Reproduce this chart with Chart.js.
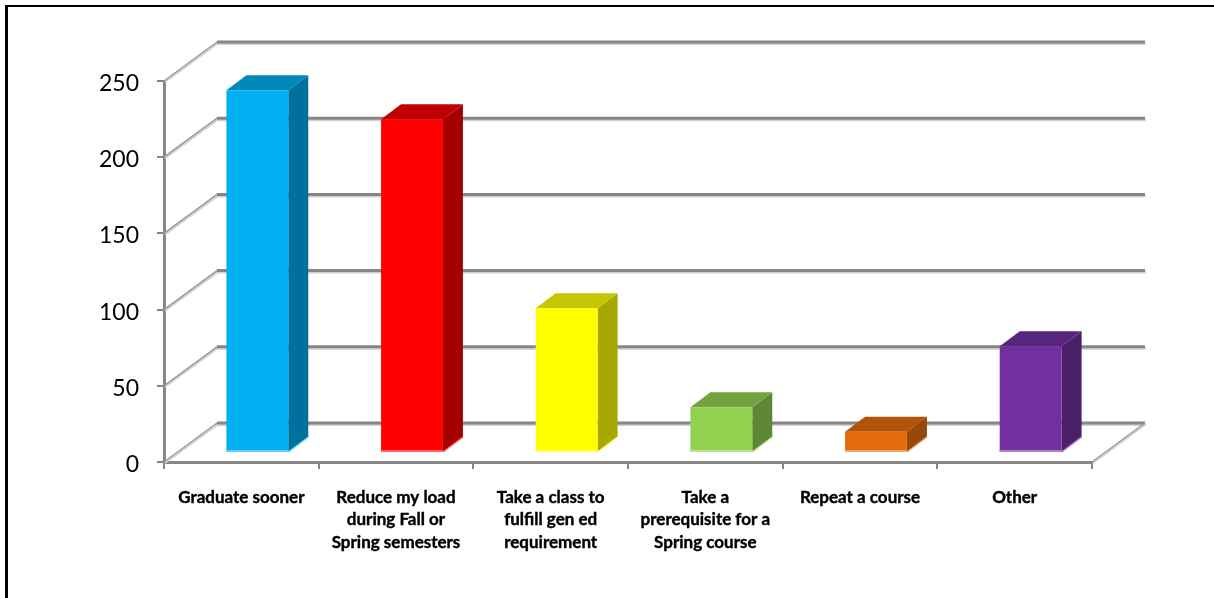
<!DOCTYPE html>
<html><head><meta charset="utf-8">
<style>html,body{margin:0;padding:0;background:#fff;overflow:hidden}
#f{position:absolute;left:5px;top:5px;width:1209px;height:593px;border-left:3px solid #000;border-top:2px solid #000;box-sizing:border-box}
canvas{position:absolute;left:0;top:0}</style>
<script src="https://cdn.jsdelivr.net/npm/chart.js@4"></script></head>
<body><div id="f"></div><canvas id="c" width="1214" height="598"></canvas>
<script>
const categories=[["Graduate sooner"],["Reduce my load","during Fall or","Spring semesters"],["Take a class to","fulfill gen ed","requirement"],["Take a","prerequisite for a","Spring course"],["Repeat a course"],["Other"]];
const values=[238,219,95,30,14,70];
const frontColors=["#00B0F0","#FF0000","#FFFF00","#92D050","#E46C0A","#7030A0"];
const topColors=["#0089B8","#C00000","#C6C600","#71A43E","#B15408","#57257C"];
const sideColors=["#00719C","#A50000","#A8A800","#5E8735","#964A08","#4A2069"];
const edgeColors=["#66D0F6","#FF6666","#FFFF66","#BEE396","#EFA66C","#A983C6"];
const yTicks=[0,50,100,150,200,250];
const WALL={dx:53,dy:-39}, BAR={dx:16,dy:-9}, DEPTH={dx:20,dy:-15};
const GRID="#868686";
function poly(ctx,p,c){ctx.fillStyle=c;ctx.beginPath();p.forEach((q,i)=>i?ctx.lineTo(q[0],q[1]):ctx.moveTo(q[0],q[1]));ctx.closePath();ctx.fill();}
const walls={id:'walls',beforeDraw(ch){
  ch.scales.y.getLabelItems().forEach(it=>{it.options.translation[1]+=2.5;});
},beforeDatasetsDraw(ch){
  const c=ch.ctx,y=ch.scales.y,x=ch.scales.x,a=ch.chartArea;c.save();
  yTicks.forEach(v=>{const py=y.getPixelForValue(v);
    c.lineCap='butt';
    c.strokeStyle='#d2d2d2';c.lineWidth=2;c.beginPath();c.moveTo(a.left+1,py+1);c.lineTo(a.left+WALL.dx,py+WALL.dy+2);c.lineTo(a.right+WALL.dx+1,py+WALL.dy+2);c.stroke();
    c.strokeStyle='#9a9a9a';c.lineWidth=1.5;c.beginPath();c.moveTo(a.left,py);c.lineTo(a.left+WALL.dx,py+WALL.dy);c.stroke();
    c.strokeStyle=GRID;c.lineWidth=3;c.beginPath();c.moveTo(a.left+WALL.dx,py+WALL.dy);c.lineTo(a.right+WALL.dx,py+WALL.dy);c.stroke();
  });
  const py=y.getPixelForValue(0);
  c.strokeStyle='#d2d2d2';c.lineWidth=2;c.beginPath();c.moveTo(a.right+1,py+1);c.lineTo(a.right+WALL.dx+1,py+WALL.dy+1);c.stroke();
  c.strokeStyle='#9a9a9a';c.lineWidth=1.5;c.beginPath();c.moveTo(a.right,py);c.lineTo(a.right+WALL.dx,py+WALL.dy);c.stroke();
  c.restore();
  c.save();
  c.translate(BAR.dx,BAR.dy);
  ch.getDatasetMeta(0).data.forEach((b,i)=>{
    const l=b.x-b.width/2,r=b.x+b.width/2,t=b.y,bt=b.base;
    poly(c,[[r,t],[r+DEPTH.dx,t+DEPTH.dy],[r+DEPTH.dx,bt+DEPTH.dy],[r,bt]],sideColors[i]);
    poly(c,[[l,t],[l+DEPTH.dx,t+DEPTH.dy],[r+DEPTH.dx,t+DEPTH.dy],[r,t]],topColors[i]);
  });
},afterDatasetsDraw(ch){
  const c=ch.ctx;
  ch.getDatasetMeta(0).data.forEach((b,i)=>{
    const l=b.x-b.width/2,r=b.x+b.width/2,bt=b.base;
    poly(c,[[l,bt-2],[r,bt-2],[r,bt],[l,bt]],edgeColors[i]);
    c.strokeStyle=edgeColors[i];c.lineWidth=1.5;c.beginPath();c.moveTo(r,bt);c.lineTo(r+DEPTH.dx,bt+DEPTH.dy);c.stroke();
  });
  c.restore();
}};
new Chart(document.getElementById('c'),{type:'bar',
 data:{labels:categories,datasets:[{data:values,backgroundColor:frontColors,barPercentage:1,categoryPercentage:0.4,clip:false,borderWidth:0}]},
 plugins:[walls],
 options:{responsive:false,animation:false,
  layout:{padding:{left:0,right:122,top:81,bottom:0}},
  plugins:{legend:{display:false},tooltip:{enabled:false},title:{display:false}},
  scales:{
   x:{afterFit(s){s.height=136;},grid:{display:true,drawOnChartArea:false,drawTicks:true,color:GRID,lineWidth:2,tickLength:7,offset:true},
      border:{color:GRID,width:3},
      ticks:{color:'#000',textStrokeColor:'#000',textStrokeWidth:0.4,font:{family:'Lato',size:17,weight:'bold',lineHeight:1.32},padding:17,maxRotation:0,autoSkip:false}},
   y:{min:0,max:250,afterFit(s){s.width=164;},
      grid:{display:true,drawOnChartArea:false,drawTicks:true,color:GRID,lineWidth:2,tickLength:7},
      border:{color:GRID,width:3},
      ticks:{color:'#000',font:{family:'Lato',size:23},padding:18,stepSize:50}}
  }}});
</script></body></html>
